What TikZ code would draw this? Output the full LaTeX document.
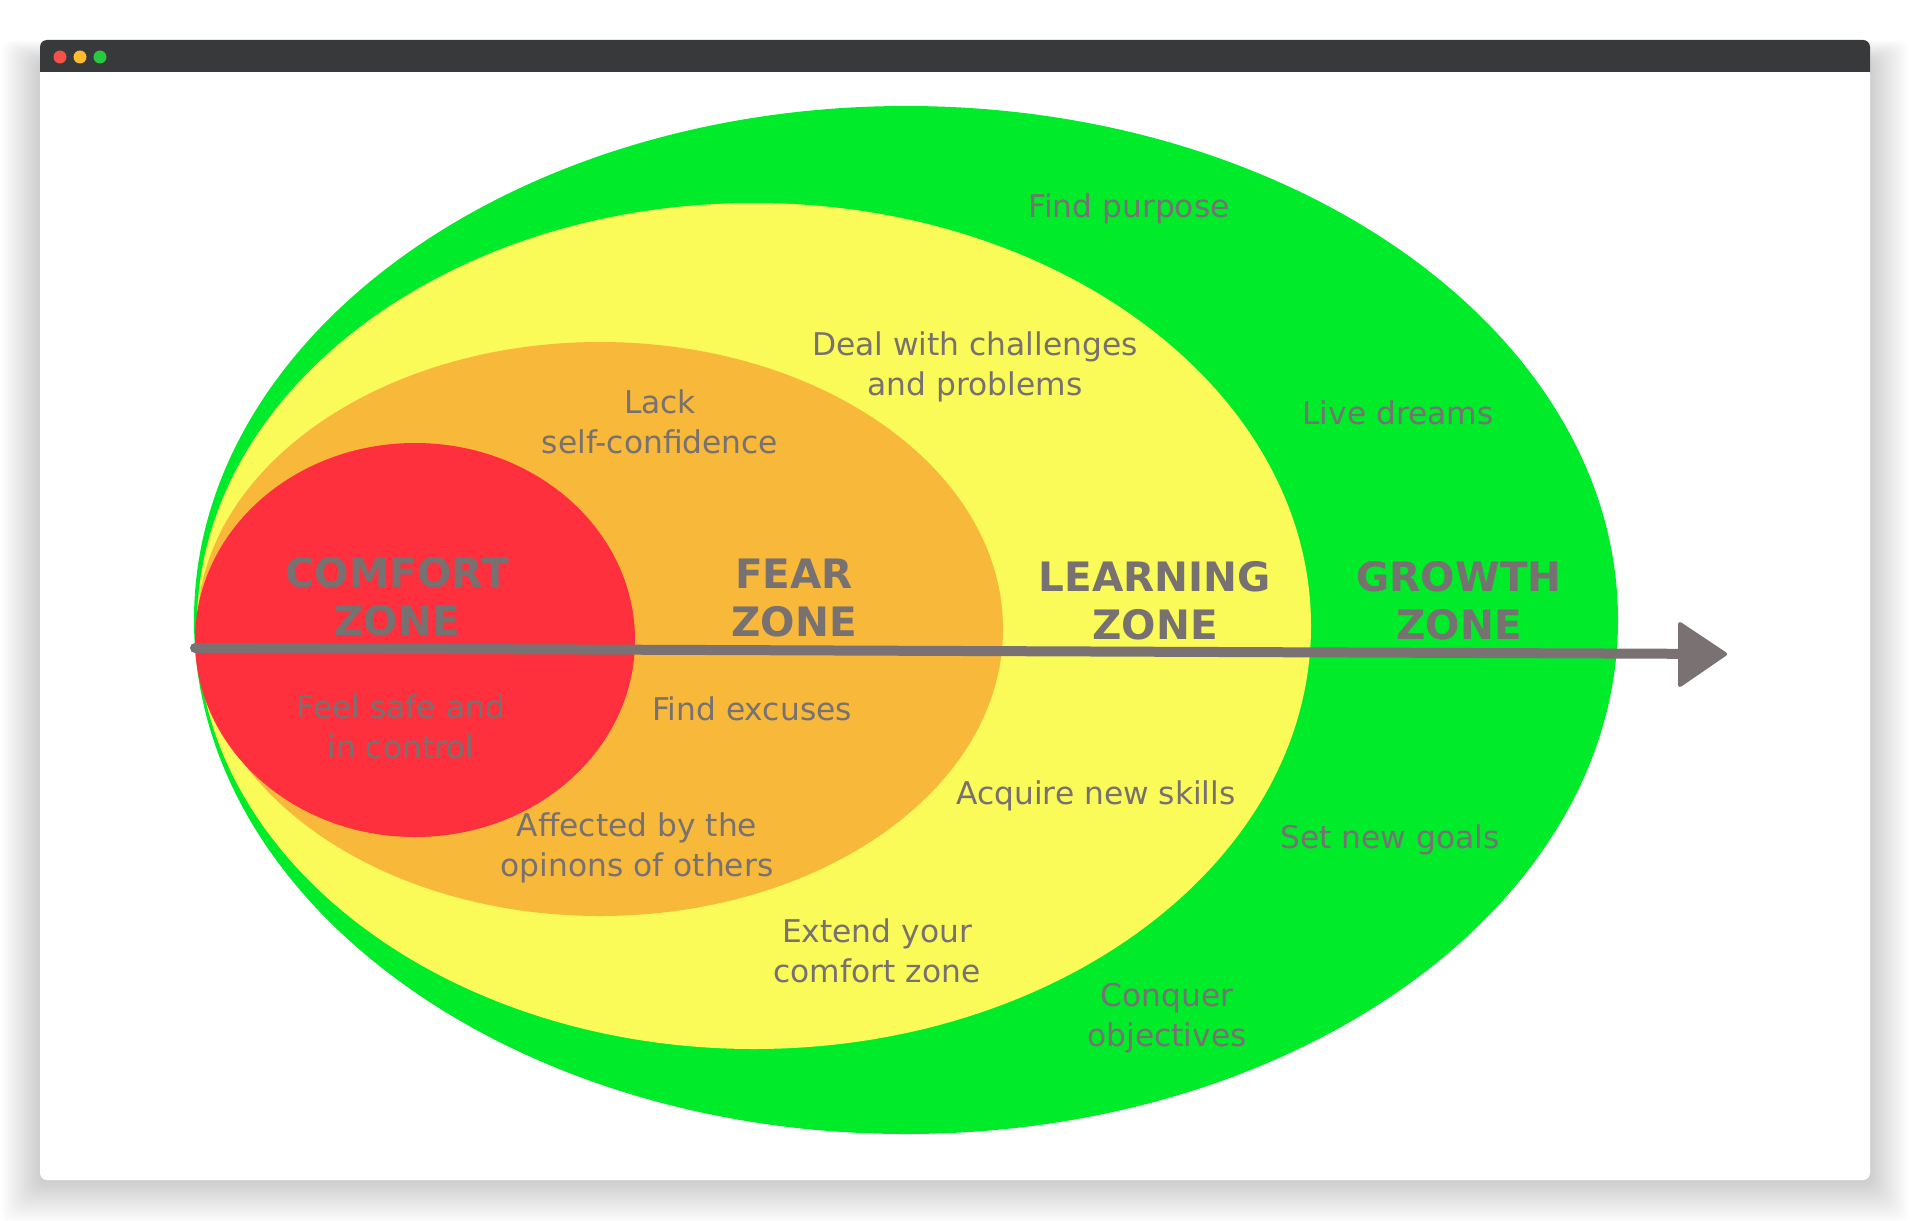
\documentclass[tikz,border=0pt]{standalone}
\usepackage{fontspec}
\setmainfont{DejaVu Sans}
\definecolor{zgreen}{RGB}{0,235,42}
\definecolor{zyellow}{RGB}{250,250,88}
\definecolor{zorange}{RGB}{248,184,58}
\definecolor{zred}{RGB}{255,48,62}
\definecolor{ztext}{RGB}{119,113,113}
\definecolor{zarrow}{RGB}{122,114,114}
\definecolor{zbar}{RGB}{56,57,59}
\definecolor{dred}{RGB}{246,80,74}
\definecolor{dyel}{RGB}{253,187,46}
\definecolor{dgrn}{RGB}{39,201,63}
\begin{document}
\begin{tikzpicture}[x=1pt,y=-1pt,
  lbl/.style={text=ztext, font=\fontsize{31.3}{39.5}\selectfont, align=center, inner sep=0pt},
  zone/.style={text=ztext, font=\bfseries\fontsize{40.5}{48}\selectfont, align=center, inner sep=0pt},
  dot/.style={circle, minimum size=13pt, inner sep=0pt}]
\useasboundingbox (0,0) rectangle (1910,1220);
\fill[white] (0,0) rectangle (1910,1220);
% shadow
\foreach \i in {1,...,24}
  \fill[black, opacity=0.008, rounded corners=10pt] ({40-1.6*\i},{62-0.9*\i}) rectangle ({1870+1.6*\i},{1182+1.7*\i});
% window
\fill[white, rounded corners=7pt] (40,40) rectangle (1870,1180);
\fill[zbar, rounded corners=7pt] (40,40) rectangle (1870,80);
\fill[white] (40,72) rectangle (1870,84);
\node[dot, fill=dred] (d1) at (60,57) {};
\node[dot, fill=dyel] (d2) at (80,57) {};
\node[dot, fill=dgrn] (d3) at (100,57) {};
% zones
\fill[zgreen] (906,620) ellipse [x radius=712pt, y radius=514pt];
\fill[zyellow] (754,626) ellipse [x radius=557pt, y radius=423pt];
\fill[zorange] (600,629) ellipse [x radius=403pt, y radius=287pt];
\fill[zred] (415,640) ellipse [x radius=220pt, y radius=197pt];
% arrow
\coordinate (aS) at (195,648);
\coordinate (aB) at (1682,653.8);
\coordinate (aE) at (1728,654);
\draw[zarrow, line width=10pt, line cap=round] (aS) -- (aB);
\fill[zarrow, draw=zarrow, line width=4pt, line join=round] (1680,624) -- (1725,654) -- (1680,685) -- cycle;
% zone titles
\node[zone] (comfort) at (397,597) {COMFORT\\ZONE};
\node[zone] (fear) at (794,598) {FEAR\\ZONE};
\node[zone] (learning) at (1155,601) {LEARNING\\ZONE};
\node[zone] (growth) at (1459,601) {GROWTH\\ZONE};
% labels
\node[lbl] (purpose) at (1129,209) {Find purpose};
\node[lbl] (deal) at (975,367) {Deal with challenges\\and problems};
\node[lbl] (dreams) at (1398,413) {Live dreams};
\node[lbl] (lack) at (660,422) {Lack\\self-confidence};
\node[lbl] (safe) at (401,727) {Feel safe and\\in control};
\node[lbl] (excuses) at (752,709) {Find excuses};
\node[lbl] (skills) at (1096,796) {Acquire new skills};
\node[lbl] (goals) at (1390,840) {Set new goals};
\node[lbl] (affected) at (637,848) {Affected by the\\opinons of others};
\node[lbl] (extend) at (877,951) {Extend your\\comfort zone};
\node[lbl] (conquer) at (1167,1018) {Conquer\\objectives};
\end{tikzpicture}
\end{document}
